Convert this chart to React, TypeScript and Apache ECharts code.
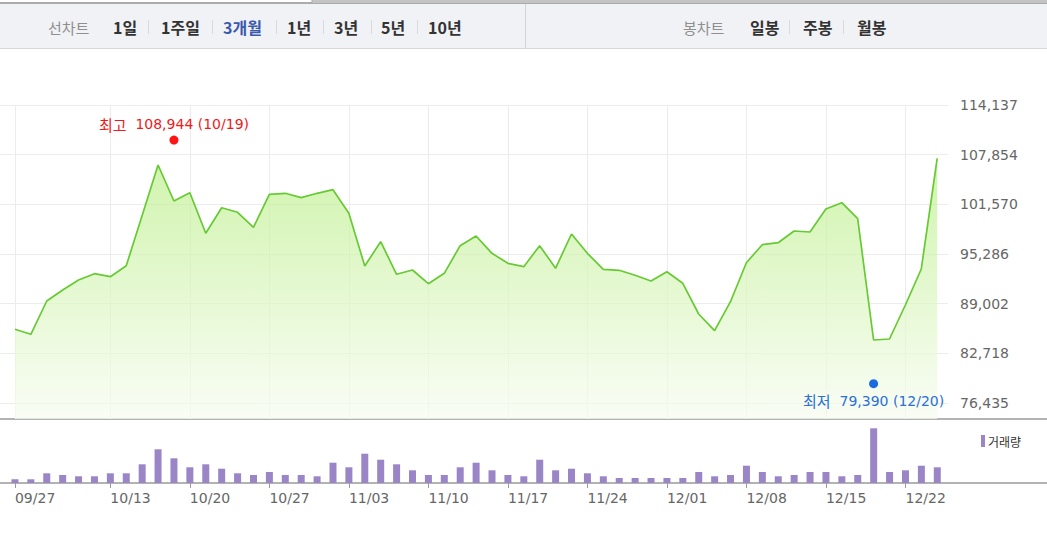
import React, { useEffect, useRef } from "react";
import * as echarts from "echarts";

// ---- data ----
const dates = [
  "09/27", "10/05", "10/06", "10/10", "10/11", "10/12", "10/13", "10/16", "10/17", "10/18",
  "10/19", "10/20", "10/23", "10/24", "10/25", "10/26", "10/27", "10/30", "10/31", "11/01",
  "11/02", "11/03", "11/06", "11/07", "11/08", "11/09", "11/10", "11/13", "11/14", "11/15",
  "11/16", "11/17", "11/20", "11/21", "11/22", "11/23", "11/24", "11/27", "11/28", "11/29",
  "11/30", "12/01", "12/04", "12/05", "12/06", "12/07", "12/08", "12/11", "12/12", "12/13",
  "12/14", "12/15", "12/18", "12/19", "12/20", "12/21", "12/22", "12/26", "12/27",
];

const closePrices = [
  85760, 85127, 89340, 90732, 91997, 92794, 92414, 93806, 100158, 106547,
  101992, 103042, 97906, 101144, 100563, 98664, 102840, 102966, 102410, 102966,
  103422, 100436, 93768, 96843, 92718, 93262, 91529, 92845, 96337, 97564,
  95375, 94110, 93680, 96337, 93477, 97817, 95375, 93351, 93224, 92592,
  91870, 93047, 91579, 87695, 85582, 89252, 94186, 96463, 96716, 98196,
  98070, 100980, 101777, 99753, 84406, 84532, 88834, 93389, 107394,
];

const volumes = [
  74000, 74000, 194000, 160000, 134000, 134000, 194000, 194000, 374000, 674000,
  494000, 314000, 374000, 286000, 194000, 160000, 220000, 160000, 160000, 134000,
  406000, 314000, 586000, 466000, 374000, 254000, 160000, 160000, 314000, 406000,
  254000, 160000, 134000, 466000, 254000, 286000, 194000, 134000, 100000, 100000,
  100000, 100000, 100000, 220000, 134000, 160000, 346000, 220000, 134000, 160000,
  220000, 220000, 134000, 160000, 1094000, 220000, 254000, 346000, 314000,
];

const priceTicks = [76435, 82718, 89002, 95286, 101570, 107854, 114137];
const dateTicks = ["09/27", "10/13", "10/20", "10/27", "11/03", "11/10", "11/17", "11/24", "12/01", "12/08", "12/15", "12/22"];

const highMark = { date: "10/19", value: 108944, label: "최고" };
const lowMark = { date: "12/20", value: 79390, label: "최저" };

const lineTabs = ["1일", "1주일", "3개월", "1년", "3년", "5년", "10년"];
const candleTabs = ["일봉", "주봉", "월봉"];
const activeTab = "3개월";
const volumeName = "거래량";

// ---- layout / style ----
const W = 1047;
const H = 544;
const lineTabX = [113, 161, 223, 287, 334, 381, 428];
const lineSepX = [148, 212, 276, 323, 371, 417];
const candleTabX = [750, 803, 857];
const candleSepX = [789, 843];
const NUM_FONT = "'DejaVu Sans', 'Noto Sans CJK KR', sans-serif";
const KR_FONT = "'Noto Sans CJK KR', 'DejaVu Sans', sans-serif";

const fmt = (v: number) => v.toLocaleString("en-US");

function headerGraphics() {
  const els: any[] = [];
  els.push({ type: "rect", shape: { x: 0, y: 3, width: W, height: 45 }, style: { fill: "#f1f2f6" }, silent: true });
  els.push({ type: "line", shape: { x1: 0, y1: 48.5, x2: W, y2: 48.5 }, style: { stroke: "#d6d8dd", lineWidth: 1 }, silent: true });
  els.push({ type: "line", shape: { x1: 0, y1: 3, x2: W, y2: 3 }, style: { stroke: "#ababab", lineWidth: 2 }, silent: true });
  els.push({ type: "rect", shape: { x: 312, y: 0, width: W - 312, height: 3 }, style: { fill: "#c4c4c4" }, silent: true });
  els.push({ type: "line", shape: { x1: 312, y1: 0, x2: 312, y2: 3 }, style: { stroke: "#ababab", lineWidth: 1 }, silent: true });
  els.push({ type: "line", shape: { x1: 525.5, y1: 4, x2: 525.5, y2: 48 }, style: { stroke: "#d3d4d8", lineWidth: 1 }, silent: true });

  const textEl = (text: string, x: number, color: string, bold: boolean, size: number) => ({
    type: "text",
    x,
    y: 27,
    silent: true,
    style: {
      text,
      fill: color,
      fontSize: size,
      fontWeight: bold ? "bold" : "normal",
      fontFamily: KR_FONT,
      verticalAlign: "middle",
      align: "left",
    },
  });
  const sep = (sx: number) => ({
    type: "line",
    shape: { x1: sx + 0.5, y1: 20, x2: sx + 0.5, y2: 34 },
    style: { stroke: "#d9dadf", lineWidth: 1 },
    silent: true,
  });
  els.push(textEl("선차트", 48, "#8f8f8f", false, 15));
  lineTabs.forEach((t, i) => els.push(textEl(t, lineTabX[i], t === activeTab ? "#3a59ad" : "#333333", true, 16)));
  lineSepX.forEach((sx) => els.push(sep(sx)));
  els.push(textEl("봉차트", 683, "#8f8f8f", false, 15));
  candleTabs.forEach((t, i) => els.push(textEl(t, candleTabX[i], "#333333", true, 16)));
  candleSepX.forEach((sx) => els.push(sep(sx)));
  // separator between price and volume panels
  els.push({ type: "line", shape: { x1: 0, y1: 419, x2: W, y2: 419 }, style: { stroke: "#9a9a9a", lineWidth: 1.5 }, silent: true });
  return els;
}

function markLabel(color: string, position: string, distance: number, mark: { date: string; value: number; label: string }) {
  return {
    show: true,
    position,
    distance,
    formatter: `{k|${mark.label}}{n|  ${fmt(mark.value)} (${mark.date})}`,
    rich: {
      k: { color, fontSize: 15, fontFamily: KR_FONT },
      n: { color, fontSize: 14, fontFamily: NUM_FONT },
    },
  };
}

export default function App() {
  const ref = useRef<HTMLDivElement | null>(null);

  useEffect(() => {
    if (!ref.current) return;
    const chart = echarts.init(ref.current, undefined, { renderer: "svg" });

    const tickIdx = dateTicks.map((d) => dates.indexOf(d));
    const hiIdx = dates.indexOf(highMark.date);
    const loIdx = dates.indexOf(lowMark.date);

    const xMin = -0.94;
    const priceXMax = 58.68;
    const volXMax = 64.9;

    const option: any = {
      animation: false,
      backgroundColor: "#ffffff",
      textStyle: { fontFamily: NUM_FONT },
      grid: [
        { left: 0, top: 105, width: 948, height: 314 },
        { left: 0, top: 423, width: W, height: 60 },
      ],
      legend: {
        data: [volumeName],
        left: 976,
        top: 430,
        icon: "rect",
        itemWidth: 4,
        itemHeight: 12,
        selectedMode: false,
        textStyle: { fontSize: 12, color: "#333", fontFamily: KR_FONT, padding: [0, 0, 0, -2] },
      },
      xAxis: [
        {
          type: "value",
          gridIndex: 0,
          min: xMin,
          max: priceXMax,
          axisLine: { show: false },
          axisTick: { show: false, customValues: tickIdx },
          axisLabel: { show: false, customValues: tickIdx },
          splitLine: { show: true, lineStyle: { color: "#ececec", width: 1 } },
        },
        {
          type: "value",
          gridIndex: 1,
          min: xMin,
          max: volXMax,
          axisLine: { show: true, onZero: false, lineStyle: { color: "#9a9a9a", width: 1.5 } },
          axisTick: { show: true, length: 5, customValues: tickIdx, lineStyle: { color: "#9a9a9a" } },
          axisLabel: {
            show: true,
            customValues: tickIdx,
            align: "left",
            margin: 8,
            color: "#666",
            fontSize: 14,
            fontFamily: NUM_FONT,
            formatter: (v: number) => dates[Math.round(v)] ?? "",
          },
          splitLine: { show: false },
        },
      ],
      yAxis: [
        {
          type: "value",
          gridIndex: 0,
          position: "right",
          min: 74412,
          max: 114137,
          axisLine: { show: false },
          axisTick: { show: false, customValues: priceTicks },
          axisLabel: {
            show: true,
            customValues: priceTicks,
            margin: 12,
            color: "#666",
            fontSize: 14,
            fontFamily: NUM_FONT,
            formatter: (v: number) => fmt(v),
          },
          splitLine: { show: true, lineStyle: { color: "#ececec", width: 1 } },
        },
        {
          type: "value",
          gridIndex: 1,
          min: 0,
          max: 1200000,
          axisLine: { show: false },
          axisTick: { show: false },
          axisLabel: { show: false },
          splitLine: { show: false },
        },
      ],
      series: [
        {
          type: "line",
          name: "종가",
          xAxisIndex: 0,
          yAxisIndex: 0,
          data: closePrices.map((v, i) => [i, v]),
          symbol: "none",
          lineStyle: { color: "#66ca33", width: 1.7 },
          areaStyle: {
            origin: "start",
            color: new echarts.graphic.LinearGradient(0, 0, 0, 1, [
              { offset: 0, color: "#bcef8a" },
              { offset: 1, color: "#f7fcf1" },
            ]),
          },
          markPoint: {
            symbol: "circle",
            symbolSize: 9,
            silent: true,
            data: [
              {
                coord: [hiIdx, highMark.value],
                symbolOffset: [0, -6],
                itemStyle: { color: "#ff1414" },
                label: markLabel("#f01a1a", "top", 4, highMark),
              },
              {
                coord: [loIdx, lowMark.value],
                symbolOffset: [0, 4],
                itemStyle: { color: "#1a6ae0" },
                label: markLabel("#2a70d6", "bottom", 5, lowMark),
              },
            ],
          },
        },
        {
          type: "bar",
          name: volumeName,
          xAxisIndex: 1,
          yAxisIndex: 1,
          data: volumes.map((v, i) => [i, v]),
          barWidth: 7,
          itemStyle: { color: "#9a85c7" },
        },
      ],
      graphic: headerGraphics(),
    };

    chart.setOption(option);
    return () => chart.dispose();
  }, []);

  return (
    <div
      ref={ref}
      style={{ position: "absolute", left: 0, top: 0, width: W, height: H, background: "#fff" }}
    />
  );
}
